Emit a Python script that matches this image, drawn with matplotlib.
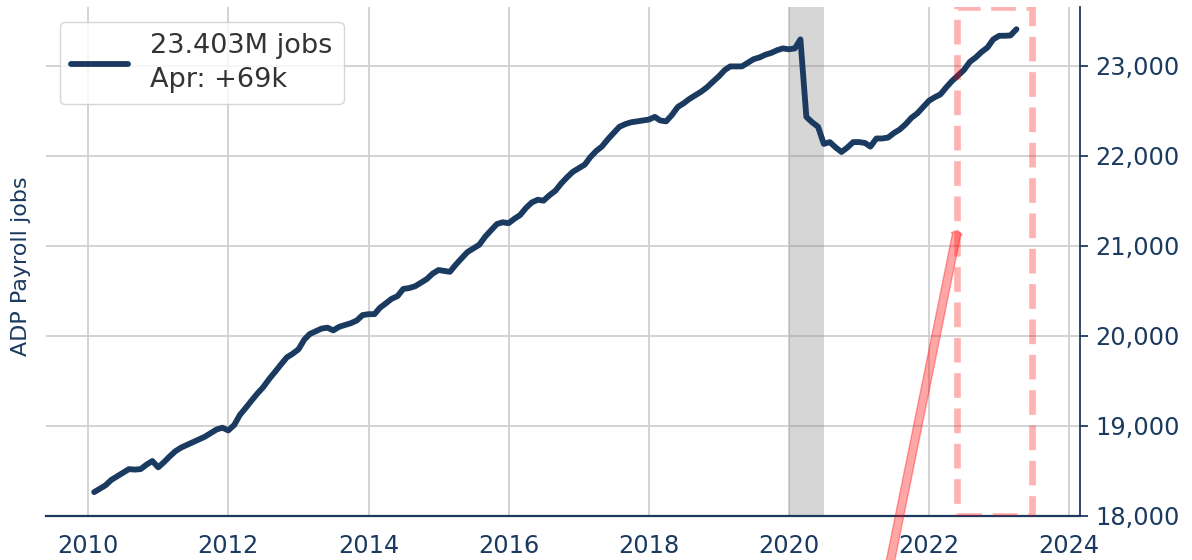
import pandas as pd
import matplotlib.pyplot as plt
import matplotlib.dates as mdates
from matplotlib.patches import Rectangle
from matplotlib.ticker import FuncFormatter

# ADP payroll jobs (thousands), monthly from Feb 2010 to Apr 2023
first_month = "2010-02-01"
jobs_2010 = [18265, 18300, 18340, 18400, 18440, 18480, 18520, 18515, 18520, 18570, 18610]
jobs_2011 = [18540, 18600, 18660, 18720, 18760, 18790, 18820, 18850, 18880, 18920, 18960, 18980]
jobs_2012 = [18950, 19010, 19120, 19200, 19280, 19360, 19430, 19520, 19600, 19680, 19760, 19800]
jobs_2013 = [19850, 19960, 20020, 20050, 20080, 20090, 20060, 20100, 20120, 20140, 20170, 20230]
jobs_2014 = [20240, 20240, 20310, 20360, 20410, 20440, 20520, 20530, 20550, 20590, 20630, 20690]
jobs_2015 = [20730, 20720, 20710, 20790, 20860, 20930, 20970, 21010, 21100, 21170, 21240, 21260]
jobs_2016 = [21250, 21300, 21340, 21420, 21480, 21510, 21500, 21560, 21610, 21690, 21760, 21820]
jobs_2017 = [21860, 21900, 21980, 22050, 22100, 22180, 22250, 22320, 22350, 22370, 22380, 22390]
jobs_2018 = [22400, 22430, 22390, 22380, 22450, 22540, 22580, 22630, 22670, 22710, 22760, 22820]
jobs_2019 = [22880, 22950, 22990, 22990, 22990, 23030, 23070, 23090, 23120, 23140, 23170, 23190]
jobs_2020 = [23180, 23190, 23290, 22430, 22370, 22320, 22130, 22150, 22090, 22040, 22090, 22150]
jobs_2021 = [22150, 22140, 22100, 22190, 22190, 22200, 22250, 22290, 22350, 22420, 22470, 22540]
jobs_2022 = [22610, 22650, 22680, 22760, 22830, 22890, 22950, 23040, 23090, 23150, 23200, 23290]
jobs_2023 = [23330, 23330, 23334, 23403]

jobs = (jobs_2010 + jobs_2011 + jobs_2012 + jobs_2013 + jobs_2014 + jobs_2015 + jobs_2016
        + jobs_2017 + jobs_2018 + jobs_2019 + jobs_2020 + jobs_2021 + jobs_2022 + jobs_2023)
dates = pd.date_range(first_month, periods=len(jobs), freq="MS")

legend_label = "23.403M jobs\nApr: +69k"
recession = ("2020-01-01", "2020-07-01")
box_start, box_end = "2022-05-26", "2023-06-20"
arrow_tip = ("2022-05-28", 21170)
arrow_tail = ("2021-03-10", 16500)

navy = "#1b3a60"

plt.rcParams['font.family'] = 'DejaVu Sans'
fig = plt.figure(figsize=(11.92, 5.6), dpi=100)
ax = fig.add_axes([0.0386, 0.0786, 0.8674, 0.909])

ax.plot(dates, jobs, color=navy, lw=4.2, solid_capstyle='round', label=legend_label, zorder=3)
ax.axvspan(pd.Timestamp(recession[0]), pd.Timestamp(recession[1]), color='grey', alpha=0.32, lw=0, zorder=2)

ax.set_xlim(pd.Timestamp("2009-05-26"), pd.Timestamp("2024-02-26"))
ax.set_ylim(18000, 23650)

x0 = mdates.date2num(pd.Timestamp(box_start))
x1 = mdates.date2num(pd.Timestamp(box_end))
ax.add_patch(Rectangle((x0, 18000), x1 - x0, 23650 - 18000, fill=False,
                       edgecolor='red', alpha=0.3, lw=4.8, ls='--', zorder=4))

ax.annotate('', xy=(mdates.date2num(pd.Timestamp(arrow_tip[0])), arrow_tip[1]),
            xytext=(mdates.date2num(pd.Timestamp(arrow_tail[0])), arrow_tail[1]),
            arrowprops=dict(facecolor='red', edgecolor='red', alpha=0.35,
                            width=6, headwidth=8, headlength=2.5, lw=1),
            annotation_clip=False, zorder=5)

ax.xaxis.set_major_locator(mdates.YearLocator(2))
ax.xaxis.set_major_formatter(mdates.DateFormatter('%Y'))
ax.yaxis.tick_right()
ax.set_yticks([18000, 19000, 20000, 21000, 22000, 23000])
ax.yaxis.set_major_formatter(FuncFormatter(lambda v, p: f"{v:,.0f}"))

ax.tick_params(axis='x', length=0, pad=13, labelsize=17.3, labelcolor=navy)
ax.tick_params(axis='y', length=6, width=1.3, pad=5, labelsize=17.3, colors=navy)

ax.grid(True, color='#d0d0d0', lw=1.3, zorder=1)
ax.set_axisbelow(True)

ax.spines['top'].set_visible(False)
ax.spines['left'].set_visible(False)
ax.spines['right'].set_color(navy)
ax.spines['right'].set_linewidth(1.3)
ax.spines['bottom'].set_color(navy)
ax.spines['bottom'].set_linewidth(1.6)

ax.set_ylabel('ADP Payroll jobs', fontsize=16, color=navy)
ax.yaxis.set_label_coords(-0.0145, 0.49)

leg = ax.legend(loc='upper left', bbox_to_anchor=(0.0135, 0.971), borderaxespad=0,
                fontsize=19.5, handlelength=2.1, borderpad=0.42, edgecolor='#cccccc')
leg.get_lines()[0].set_linewidth(4.2)
for t in leg.get_texts():
    t.set_color('#333333')
    t.set_linespacing(1.4)

fig.savefig('out.png', dpi=100)
